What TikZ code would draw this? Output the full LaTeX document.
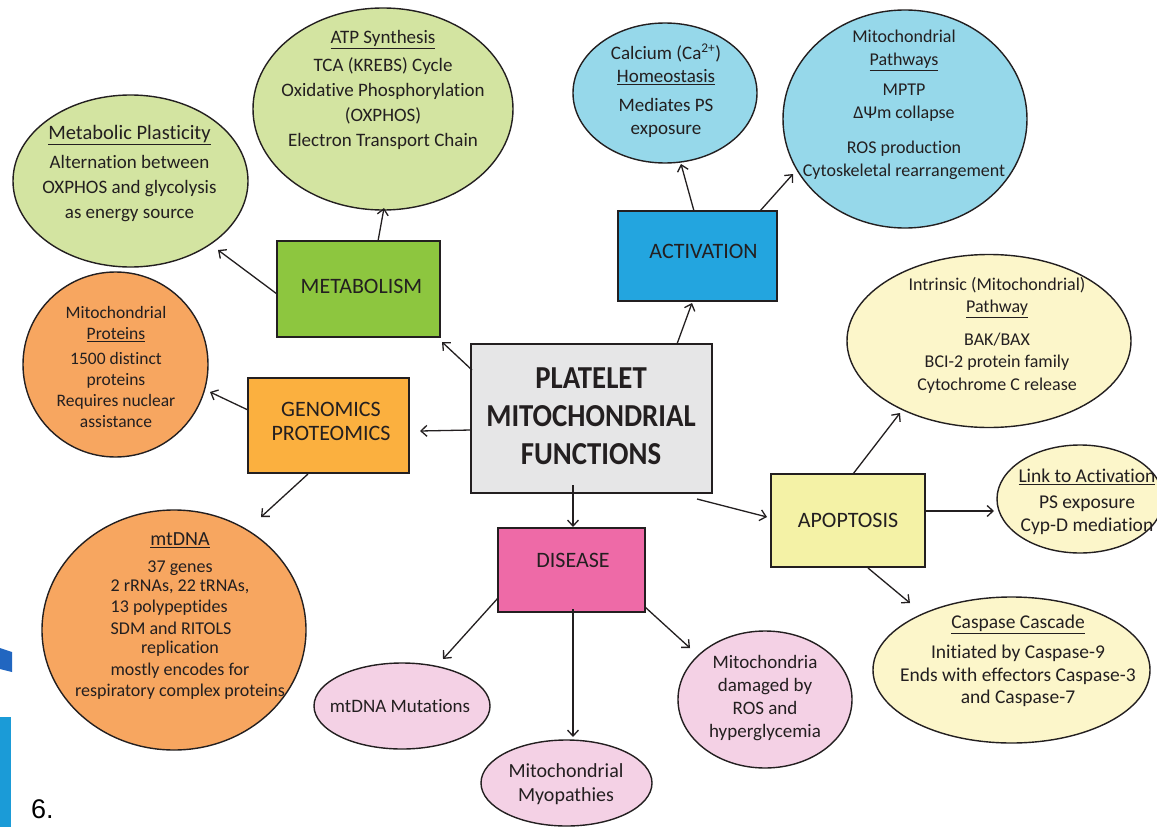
\documentclass[tikz,border=0pt]{standalone}
\usepackage{fontspec}
\usepackage{graphicx}
\setmainfont{Carlito}[Ligatures=NoCommon]
\newfontfamily\numfont{Liberation Sans}
\usetikzlibrary{shapes.geometric,arrows.meta,calc}
\newcommand\fsz[2]{\fontsize{#1}{#2}\selectfont}
\newcommand\narrowtitle[1]{\scalebox{0.9}[1]{#1}}
\definecolor{txt}{HTML}{231F20}
\definecolor{cgray}{HTML}{E6E6E7}
\definecolor{metg}{HTML}{8DC63F}
\definecolor{lgreen}{HTML}{D3E4A1}
\definecolor{actb}{HTML}{23A5DF}
\definecolor{lblue}{HTML}{96D8EA}
\definecolor{geno}{HTML}{FBB03F}
\definecolor{lorange}{HTML}{F7A660}
\definecolor{disp}{HTML}{EE6AA7}
\definecolor{lpink}{HTML}{F4D1E5}
\definecolor{apoy}{HTML}{F4F2A6}
\definecolor{lyellow}{HTML}{FCF6CA}
\definecolor{decoblue}{HTML}{2166C0}
\definecolor{decocyan}{HTML}{1B9BD7}
\tikzset{
  box/.style={draw=txt, line width=1.4pt, rectangle, inner sep=0pt},
  ell/.style={draw=txt, line width=1.4pt, ellipse, inner sep=0pt},
  tb/.style={align=center, inner sep=0pt, text=txt},
  arr/.style={draw=txt, line width=1.3pt, -{Straight Barb[length=6pt,width=11pt]}},
}
\begin{document}
\begin{tikzpicture}[x=1pt,y=-1pt]
\useasboundingbox (0,0) rectangle (1157,827);
\fill[white] (0,0) rectangle (1157,827);
% slide decorations at left edge
\fill[decoblue] (0,648) -- (12,652) -- (12,672) -- (0,669) -- cycle;
\fill[decocyan] (0,717) rectangle (11,827);
\node[anchor=base west, inner sep=0pt, font=\numfont\fsz{27}{30}] (num) at (31,818) {6.};

% boxes
\node[box, fill=cgray, minimum width=241pt, minimum height=149pt] (cent) at (591.5,418.5) {};
\node[box, fill=metg, minimum width=163pt, minimum height=96pt] (met) at (358.5,289) {};
\node[box, fill=actb, minimum width=159pt, minimum height=90pt] (act) at (697.5,256) {};
\node[box, fill=geno, minimum width=161pt, minimum height=95pt] (gen) at (328.5,425.5) {};
\node[box, fill=disp, minimum width=147pt, minimum height=84pt] (dis) at (571.5,570) {};
\node[box, fill=apoy, minimum width=154pt, minimum height=93pt] (apo) at (848,520.5) {};

% ellipses
\node[ell, fill=lgreen, minimum width=235pt, minimum height=172pt] (mp) at (130.5,181) {};
\node[ell, fill=lgreen, minimum width=260pt, minimum height=202pt] (atp) at (383,109) {};
\node[ell, fill=lblue, minimum width=184pt, minimum height=140pt] (cal) at (665,93) {};
\node[ell, fill=lblue, minimum width=244pt, minimum height=218pt] (path) at (905,119) {};
\node[ell, fill=lyellow, minimum width=284pt, minimum height=173pt] (intr) at (989,341) {};
\node[ell, fill=lyellow, minimum width=166pt, minimum height=108pt] (link) at (1080,499) {};
\node[ell, fill=lyellow, minimum width=277pt, minimum height=146pt] (casp) at (1011.5,670) {};
\node[ell, fill=lpink, minimum width=174pt, minimum height=137pt] (dam) at (765,699.5) {};
\node[ell, fill=lpink, minimum width=171pt, minimum height=86pt] (myo) at (566.5,783) {};
\node[ell, fill=lpink, minimum width=176pt, minimum height=86pt] (mut) at (402,706) {};
\node[ell, fill=lorange, minimum width=185pt, minimum height=185pt] (prot) at (115.5,364.5) {};
\node[ell, fill=lorange, minimum width=264pt, minimum height=240pt] (mtdna) at (174,630) {};

% box texts
\node[tb, font=\bfseries\fsz{32}{38}] (centT) at (591,416) {\narrowtitle{PLATELET}\\\narrowtitle{MITOCHONDRIAL}\\\narrowtitle{FUNCTIONS}};
\node[tb, font=\fsz{22}{24}] (metT) at (361.5,286) {METABOLISM};
\node[tb, font=\fsz{22}{24}] (actT) at (703.5,251) {ACTIVATION};
\node[tb, font=\fsz{22}{24}] (genT) at (331,421) {GENOMICS\\PROTEOMICS};
\node[tb, font=\fsz{22}{24}] (disT) at (573,560) {DISEASE};
\node[tb, font=\fsz{22}{24}] (apoT) at (848,520) {APOPTOSIS};

% ellipse texts
\node[tb, font=\fsz{19}{25}] (atpT) at (383,90) {\underline{ATP Synthesis}\\[3pt]TCA (KREBS) Cycle\\Oxidative Phosphorylation\\(OXPHOS)\\Electron Transport Chain};
\node[tb, font=\fsz{19}{25}] (mpT) at (129.5,174) {{\fsz{20.5}{25}\underline{Metabolic Plasticity}}\\[4pt]Alternation between\\OXPHOS and glycolysis\\as energy source};
\node[tb, font=\fsz{19}{23.5}] (calT) at (666,91) {Calcium (Ca\textsuperscript{2+})\\\underline{Homeostasis}\\[5pt]Mediates PS\\exposure};
\node[tb, font=\fsz{18}{23}] (pathT) at (904,105) {Mitochondrial\\\underline{Pathways}\\[7pt]MPTP\\ΔΨm collapse\\[12pt]ROS production\\Cytoskeletal rearrangement};
\node[tb, font=\fsz{18}{22.5}] (intrT) at (997,335) {Intrinsic (Mitochondrial)\\\underline{Pathway}\\[10pt]BAK/BAX\\BCI-2 protein family\\Cytochrome C release};
\node[tb, font=\fsz{19.5}{23}] (linkT) at (1087,502) {\underline{Link to Activation}\\[3pt]PS exposure\\Cyp-D mediation};
\node[tb, font=\fsz{19.5}{22.5}] (caspT) at (1018,661) {\underline{Caspase Cascade}\\[8pt]Initiated by Caspase-9\\Ends with effectors Caspase-3\\and Caspase-7};
\node[tb, font=\fsz{19}{22.7}] (damT) at (765,698) {Mitochondria\\damaged by\\ROS and\\hyperglycemia};
\node[tb, font=\fsz{20}{24}] (myoT) at (566,784) {Mitochondrial\\Myopathies};
\node[tb, font=\fsz{19}{23}] (mutT) at (400,706) {mtDNA Mutations};
\node[tb, font=\fsz{17.5}{21}] (protT) at (116,367) {Mitochondrial\\\underline{Proteins}\\[4pt]1500 distinct\\proteins\\Requires nuclear\\assistance};
\node[tb, font=\fsz{18}{21.2}] (mtdnaT) at (180,616) {{\fsz{20}{22}\underline{mtDNA}}\\[6pt]37 genes\\\begin{tabular}{@{}l@{}}2 rRNAs, 22 tRNAs,\\13 polypeptides\\SDM and RITOLS\end{tabular}\\replication\\mostly encodes for\\respiratory complex proteins};

% connectors
\draw[arr] ($(cent)+(-119.5,-48.5)$) -- ($(met)+(83.5,53)$);
\draw[arr] ($(met)+(-81.5,5)$) -- ($(mp)+(87.5,69)$);
\draw[arr] ($(met)+(19.5,-48)$) -- ($(atp)+(1,99)$);
\draw[arr] ($(cent)+(85.5,-74.5)$) -- ($(act)+(-5.5,47)$);
\draw[arr] ($(act)+(-3.5,-45)$) -- ($(cal)+(16,71)$);
\draw[arr] ($(act)+(62.5,-45)$) -- ($(path)+(-112,55)$);
\draw[arr] ($(cent)+(-120.5,11.5)$) -- ($(gen)+(91.5,5.5)$);
\draw[arr] ($(gen)+(-80.5,-15.5)$) -- ($(prot)+(94.5,27.5)$);
\draw[arr] ($(gen)+(-20.5,48.5)$) -- ($(mtdna)+(87,-113)$);
\draw[arr] ($(cent)+(-18.5,66.5)$) -- ($(dis)+(1.5,-43)$);
\draw[arr] ($(cent)+(105.5,80.5)$) -- ($(apo)+(-81,-3.5)$);
\draw[arr] ($(apo)+(5,-46.5)$) -- ($(intr)+(-89,72)$);
\draw[arr] ($(apo)+(77,-9.5)$) -- ($(link)+(-86,12)$);
\draw[arr] ($(apo)+(20,47.5)$) -- ($(casp)+(-101.5,-67)$);
\draw[arr] ($(dis)+(-73.5,28)$) -- ($(mut)+(41,-47)$);
\draw[arr] ($(dis)+(1.5,39)$) -- ($(myo)+(6.5,-46)$);
\draw[arr] ($(dis)+(73.5,37)$) -- ($(dam)+(-75,-51.5)$);
\end{tikzpicture}
\end{document}
